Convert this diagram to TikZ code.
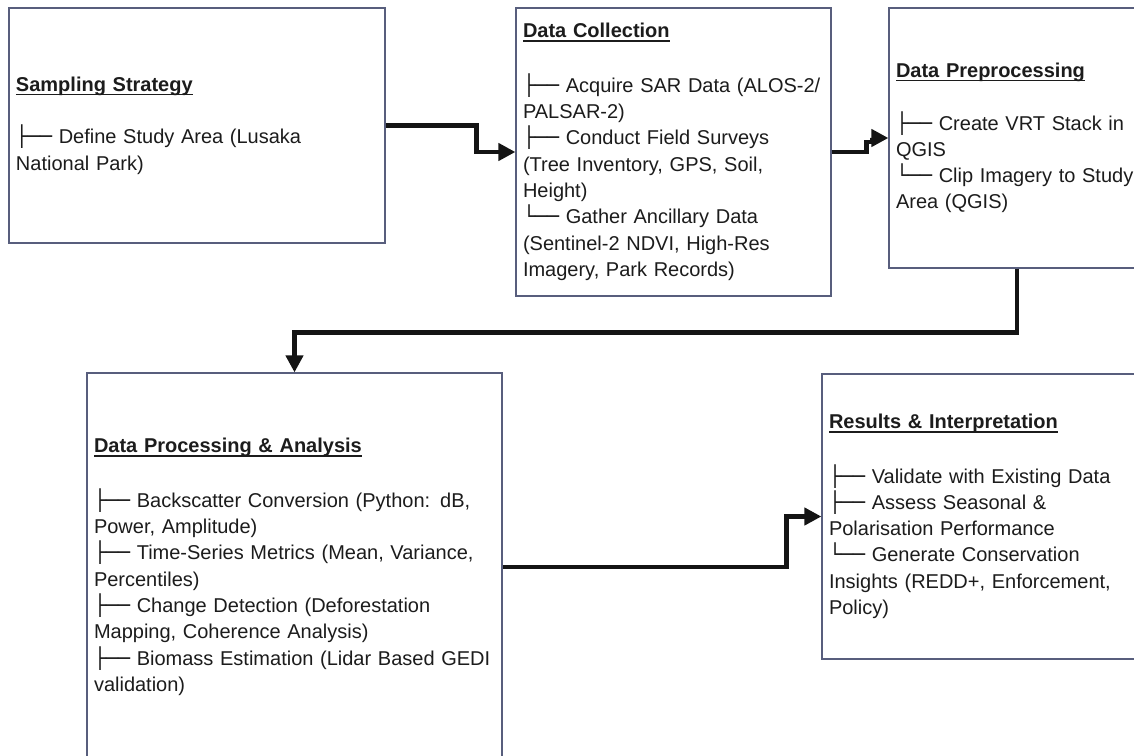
\documentclass[tikz,border=0pt]{standalone}
\usepackage{fontspec}
\setmainfont{Liberation Sans}
\newfontfamily\boxfont{DejaVu Sans}
\usetikzlibrary{arrows.meta}
\definecolor{boxline}{RGB}{88,94,125}
\definecolor{flowline}{RGB}{20,20,20}
\definecolor{inktext}{RGB}{28,28,28}
\newsavebox\headbox
\newcommand{\heading}[1]{\sbox\headbox{\bfseries #1}\rlap{\rule[-4pt]{\wd\headbox}{1.7pt}}\usebox\headbox}
\newcommand{\branch}{{\boxfont ├──}\ }
\newcommand{\lastbranch}{{\boxfont └──}\ }
\tikzset{
  stage/.style={draw=boxline, line width=1.2pt, fill=white, text=inktext, inner xsep=6.5pt,
    align=left, font=\fontsize{20}{26.3}\selectfont},
  flow/.style={draw=flowline, line width=4.6pt, -{Triangle[length=17pt,width=17pt]}}
}
\begin{document}
\begin{tikzpicture}[x=1pt,y=-1pt]
        \useasboundingbox (0,0) rectangle (1134,755);
        % top row
        \node[stage, minimum width=376pt, minimum height=235pt, text width=362pt] (sampling) at (197,125.5)
          {\heading{Sampling Strategy}\\[26.3pt]
           \branch Define Study Area (Lusaka\\
           National Park)};
        \node[stage, minimum width=315pt, minimum height=288pt, text width=301pt] (collection) at (673.5,152)
          {\heading{Data Collection}\\[28pt]
           \branch Acquire SAR Data (ALOS-2/\\
           PALSAR-2)\\
           \branch Conduct Field Surveys\\
           (Tree Inventory, GPS, Soil,\\
           Height)\\
           \lastbranch Gather Ancillary Data\\
           (Sentinel-2 NDVI, High-Res\\
           Imagery, Park Records)};
        \node[stage, minimum width=256pt, minimum height=260pt, text width=242pt] (preproc) at (1017,138)
          {\heading{Data Preprocessing}\\[26.3pt]
           \branch Create VRT Stack in\\
           QGIS\\
           \lastbranch Clip Imagery to Study\\
           Area (QGIS)};
        % bottom row
        \node[stage, minimum width=415pt, minimum height=388pt, text width=401pt] (processing) at (294.5,567)
          {\heading{Data Processing \& Analysis}\\[28pt]
           \branch Backscatter Conversion (Python: dB,\\
           Power, Amplitude)\\
           \branch Time-Series Metrics (Mean, Variance,\\
           Percentiles)\\
           \branch Change Detection (Deforestation\\
           Mapping, Coherence Analysis)\\
           \branch Biomass Estimation (Lidar Based GEDI\\
           validation)};
        \node[stage, minimum width=323pt, minimum height=285pt, text width=309pt] (results) at (983.5,516.5)
          {\heading{Results \& Interpretation}\\[28pt]
           \branch Validate with Existing Data\\
           \branch Assess Seasonal \&\\
           Polarisation Performance\\
           \lastbranch Generate Conservation\\
           Insights (REDD+, Enforcement,\\
           Policy)};
        % connectors
        \draw[flow] (sampling.east) -- ++(91,0) |- (collection.west);
        \draw[flow] (collection.east) -- ++(35,0) -- ++(0,-10) -- ++(6,0) |- (preproc.west);
        \draw[flow] (preproc.south) -- ++(0,64) -| (processing.north);
        \draw[flow] (processing.east) -- ++(284,0) |- (results.west);
    \end{tikzpicture}
\end{document}
